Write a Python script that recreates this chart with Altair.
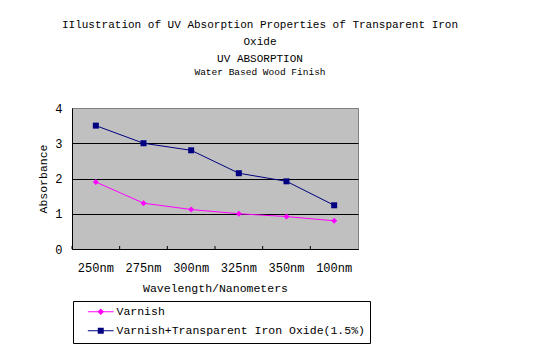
import altair as alt
import pandas as pd

wavelengths = ["250nm", "275nm", "300nm", "325nm", "350nm", "100nm"]
varnish = [1.9, 1.3, 1.12, 1.0, 0.92, 0.8]
iron_oxide = [3.5, 3.0, 2.8, 2.15, 1.92, 1.24]
series_names = ["Varnish", "Varnish+Transparent Iron Oxide(1.5%)"]
series_colors = ["#FF00FF", "#000080"]
y_ticks = [0, 1, 2, 3, 4]

rows = []
for w, v in zip(wavelengths, varnish):
    rows.append({"wl": w, "abs": v, "series": series_names[0]})
for w, v in zip(wavelengths, iron_oxide):
    rows.append({"wl": w, "abs": v, "series": series_names[1]})
df = pd.DataFrame(rows)
cats = pd.DataFrame({"wl": wavelengths})

FONT = "Liberation Mono"
W, H = 286, 141
PAD_L, PAD_T = 64, 100
PAD_R = 553 - 16 - PAD_L - W
PAD_B = 360 - 16 - PAD_T - H

xscale = alt.Scale(type="band", domain=wavelengths, paddingInner=0, paddingOuter=0)
yscale = alt.Scale(domain=[0, 4], nice=False)
cscale = alt.Scale(domain=series_names, range=series_colors)

x_axis = alt.Axis(title="Wavelength/Nanometers", labelAngle=0, ticks=False,
                  labelPadding=13, titlePadding=9, domainColor="black",
                  labelFont=FONT, labelFontSize=12, labelColor="black",
                  titleFont=FONT, titleFontSize=11.5, titleFontWeight="normal",
                  titleColor="black", grid=False)
y_axis = alt.Axis(title="Absorbance", values=y_ticks, tickCount=5, ticks=False, labelPadding=10,
                  titlePadding=6, domainColor="black", grid=True,
                  gridColor={"expr": "datum.value == 4 ? '#808080' : '#000000'"},
                  gridOpacity=1, gridWidth=1, labelOverlap=False,
                  labelFont=FONT, labelFontSize=12, labelColor="black",
                  titleFont=FONT, titleFontSize=11.5, titleFontWeight="normal",
                  titleColor="black")


def xenc(bp=0.5):
    return alt.X("wl:N", scale=xscale, sort=wavelengths, bandPosition=bp, axis=x_axis)


def yenc():
    return alt.Y("abs:Q", scale=yscale, axis=y_axis)


# legend symbols: a 1px filled bar (the line) plus the marker, all filled
DIAMOND_PATH = "M-4.3,-0.17H4.3V0.17H-4.3ZM0,-1.1L1.1,0L0,1.1L-1.1,0Z"
SQUARE_PATH = "M-4.3,-0.17H4.3V0.17H-4.3ZM-1,-1H1V1H-1Z"

base = alt.Chart(df)

lines = base.mark_line(strokeWidth=1).encode(
    x=xenc(), y=yenc(),
    color=alt.Color("series:N", scale=cscale, legend=None),
    detail="series:N",
)

points_v = base.transform_filter(
    alt.datum.series == series_names[0]
).mark_point(filled=True, opacity=1, size=36, shape="diamond").encode(
    x=xenc(), y=yenc(),
    color=alt.Color("series:N", scale=cscale, legend=None),
)

points_i = base.transform_filter(
    alt.datum.series == series_names[1]
).mark_point(filled=True, opacity=1, size=36, shape="square").encode(
    x=xenc(), y=yenc(),
    color=alt.Color("series:N", scale=cscale, legend=None),
)

# legend 1: both entries, with box (symbols in the first series colour)
legend_main = base.transform_filter("false").mark_point(
    filled=True, opacity=1, size=36, strokeWidth=0, color=series_colors[0]
).encode(
    x=xenc(), y=yenc(),
    shape=alt.Shape("series:N", scale=alt.Scale(domain=series_names, range=[DIAMOND_PATH, SQUARE_PATH]),
                    legend=alt.Legend(
                        title=None, orient="none", legendX=1, legendY=193, direction="vertical",
                        strokeColor="black", fillColor="white", padding=5, rowPadding=7,
                        symbolSize=36, symbolOffset=17, symbolStrokeWidth=0, labelOffset=10,
                        symbolOpacity=1, symbolFillColor=series_colors[0],
                        labelFont=FONT, labelFontSize=11.5, labelColor="black", labelLimit=400,
                        zindex=0)),
)

# legend 2: second entry redrawn in its own colour over row 2 of legend 1
legend_second = base.transform_filter("false").mark_point(
    filled=True, opacity=1, size=36, strokeWidth=0, color=series_colors[1]
).encode(
    x=xenc(), y=yenc(),
    shape=alt.Shape("series:N", scale=alt.Scale(domain=[series_names[1]], range=[SQUARE_PATH]),
                    legend=alt.Legend(
                        title=None, orient="none", legendX=6, legendY=217, direction="vertical",
                        fillColor="white", padding=0, rowPadding=7,
                        symbolSize=36, symbolOffset=17, symbolStrokeWidth=0, labelOffset=10,
                        symbolOpacity=1, symbolFillColor=series_colors[1],
                        labelFont=FONT, labelFontSize=11.5, labelColor="black", labelLimit=400,
                        zindex=1)),
)

ticks = alt.Chart(cats).mark_rule(color="black", strokeWidth=1).encode(
    x=xenc(0),
    y=alt.value(H),
    y2=alt.value(H - 3),
)

chart = alt.layer(ticks, lines, points_v, points_i, legend_main, legend_second).resolve_scale(
    shape="independent"
).properties(
    width=W, height=H,
    autosize=alt.AutoSizeParams(type="none"),
    padding={"left": PAD_L, "top": PAD_T, "right": PAD_R, "bottom": PAD_B},
    view=alt.ViewBackground(fill="#C0C0C0", stroke="#808080", strokeWidth=1),
    title=alt.Title(
        text=["IIlustration of UV Absorption Properties of Transparent Iron", "Oxide", "UV ABSORPTION"],
        subtitle="Water Based Wood Finish",
        font=FONT, fontSize=11, fontWeight="normal", color="black", lineHeight=17,
        subtitleFont=FONT, subtitleFontSize=9.5, subtitleColor="black", subtitlePadding=3,
        anchor="middle", dx=45, offset=26,
    ),
).configure_view(
    fill="#C0C0C0", stroke="#808080", strokeWidth=1
).configure(background="white")

chart.save("out.html", embed_options={"renderer": "svg", "actions": False})
